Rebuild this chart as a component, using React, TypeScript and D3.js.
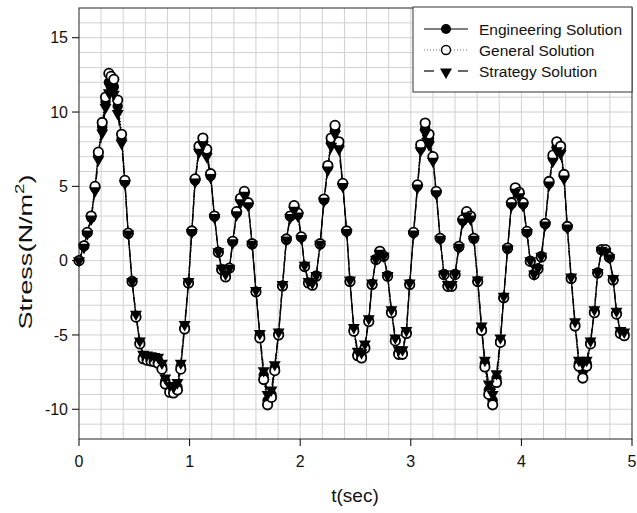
import React from 'react';
import * as d3 from 'd3';

// values
const time = [
  0, 0.045, 0.075, 0.11, 0.145, 0.175, 0.21, 0.24, 0.27, 0.29, 0.315, 0.35, 0.385, 0.415, 0.445, 0.48,
  0.515, 0.55, 0.58, 0.615, 0.65, 0.68, 0.715, 0.75, 0.78, 0.82, 0.855, 0.89, 0.92, 0.955, 0.99, 1.02,
  1.05, 1.085, 1.12, 1.155, 1.19, 1.225, 1.26, 1.29, 1.325, 1.36, 1.39, 1.425, 1.46, 1.495, 1.53, 1.565,
  1.6, 1.635, 1.67, 1.705, 1.74, 1.77, 1.805, 1.84, 1.875, 1.91, 1.945, 1.98, 2.01, 2.04, 2.075, 2.11,
  2.145, 2.18, 2.215, 2.25, 2.28, 2.315, 2.35, 2.385, 2.42, 2.45, 2.485, 2.52, 2.555, 2.585, 2.62, 2.65,
  2.685, 2.72, 2.755, 2.79, 2.825, 2.86, 2.89, 2.925, 2.96, 2.99, 3.025, 3.06, 3.09, 3.13, 3.165, 3.2,
  3.23, 3.265, 3.3, 3.335, 3.37, 3.4, 3.435, 3.47, 3.505, 3.54, 3.57, 3.605, 3.64, 3.67, 3.705, 3.74,
  3.775, 3.81, 3.84, 3.875, 3.91, 3.945, 3.98, 4.015, 4.05, 4.08, 4.115, 4.15, 4.18, 4.215, 4.25, 4.285,
  4.32, 4.355, 4.385, 4.415, 4.45, 4.485, 4.52, 4.555, 4.59, 4.625, 4.66, 4.69, 4.725, 4.76, 4.795, 4.83,
  4.86, 4.895, 4.93,
];

const general = [
  0, 1.0, 1.9, 3.0, 5.0, 7.3, 9.3, 11.0, 12.6, 12.4, 12.2, 10.8, 8.5, 5.4, 1.85, -1.4,
  -3.8, -5.6, -6.6, -6.7, -6.75, -6.8, -6.9, -7.3, -8.3, -8.85, -8.9, -8.7, -7.3, -4.6, -1.5, 2.0,
  5.5, 7.7, 8.25, 7.5, 5.85, 3.0, 0.56, -0.6, -1.1, -0.5, 1.3, 3.3, 4.2, 4.66, 3.9, 1.14,
  -2.1, -5.2, -8.0, -9.7, -9.2, -7.4, -5.0, -1.7, 1.46, 3.0, 3.7, 3.2, 1.6, -0.4, -1.5, -1.65,
  -1.05, 1.14, 4.15, 6.4, 8.25, 9.1, 8.0, 5.2, 2.0, -1.4, -4.75, -6.4, -6.55, -5.9, -4.1, -1.6,
  0.07, 0.63, 0.3, -1.05, -3.5, -5.4, -6.3, -6.3, -4.9, -1.6, 1.9, 5.1, 7.8, 9.26, 8.5, 7.0,
  4.66, 1.5, -0.94, -1.73, -1.73, -0.94, 0.96, 2.76, 3.3, 3.0, 1.5, -1.4, -4.7, -7.15, -9.0, -9.7,
  -8.2, -5.5, -2.5, 0.85, 3.9, 4.9, 4.6, 3.9, 1.97, -0.05, -0.94, -0.56, 0.25, 2.5, 5.33, 7.1,
  8.0, 7.7, 5.8, 2.3, -1.2, -4.4, -7.1, -7.9, -7.1, -5.6, -3.5, -0.83, 0.74, 0.74, 0.25, -1.3,
  -3.6, -4.9, -5.05,
];

const engineering = [
  0, 1.0, 1.9, 2.9, 4.9, 7.1, 9.0, 10.7, 12.0, 11.9, 11.7, 10.4, 8.2, 5.3, 1.8, -1.4,
  -3.7, -5.5, -6.5, -6.5, -6.6, -6.6, -6.7, -7.1, -8.1, -8.6, -8.7, -8.5, -7.1, -4.5, -1.5, 2.0,
  5.4, 7.5, 8.0, 7.3, 5.7, 3.0, 0.6, -0.6, -1.0, -0.5, 1.3, 3.2, 4.1, 4.5, 3.8, 1.1,
  -2.1, -5.0, -7.7, -9.4, -9.0, -7.2, -4.9, -1.7, 1.4, 3.0, 3.6, 3.1, 1.6, -0.4, -1.5, -1.6,
  -1.0, 1.1, 4.1, 6.3, 8.0, 8.8, 7.8, 5.1, 2.0, -1.4, -4.6, -6.3, -6.4, -5.8, -4.0, -1.6,
  0.1, 0.6, 0.3, -1.0, -3.4, -5.3, -6.2, -6.2, -4.8, -1.6, 1.9, 5.0, 7.6, 8.9, 8.2, 6.9,
  4.6, 1.5, -0.9, -1.7, -1.7, -0.9, 0.9, 2.7, 3.2, 2.9, 1.5, -1.4, -4.6, -6.9, -8.7, -9.4,
  -7.9, -5.4, -2.5, 0.8, 3.8, 4.8, 4.5, 3.8, 1.9, 0.0, -0.9, -0.5, 0.3, 2.5, 5.2, 6.9,
  7.7, 7.5, 5.7, 2.3, -1.2, -4.3, -6.9, -7.4, -6.9, -5.5, -3.4, -0.8, 0.7, 0.7, 0.2, -1.3,
  -3.5, -4.8, -4.9,
];

const strategy = [
  0, 0.9, 1.8, 2.8, 4.7, 6.8, 8.6, 10.3, 11.3, 11.5, 11.2, 9.9, 7.9, 5.2, 1.8, -1.4,
  -3.6, -5.4, -6.3, -6.35, -6.4, -6.45, -6.5, -6.9, -7.9, -8.4, -8.5, -8.2, -6.9, -4.3, -1.4, 1.9,
  5.3, 7.3, 7.8, 7.0, 5.6, 2.9, 0.6, -0.5, -0.9, -0.5, 1.2, 3.1, 3.9, 4.4, 3.7, 1.1,
  -2.0, -4.9, -7.4, -9.0, -8.7, -7.0, -4.8, -1.6, 1.4, 2.9, 3.4, 3.0, 1.5, -0.3, -1.4, -1.5,
  -1.0, 1.1, 4.0, 6.1, 7.7, 8.5, 7.5, 5.0, 1.9, -1.3, -4.5, -6.1, -6.2, -5.6, -3.9, -1.5,
  0.1, 0.5, 0.3, -1.0, -3.3, -5.2, -6.0, -6.0, -4.7, -1.5, 1.8, 4.9, 7.4, 8.6, 7.8, 6.7,
  4.5, 1.45, -0.9, -1.6, -1.6, -0.9, 0.9, 2.6, 3.0, 2.8, 1.45, -1.3, -4.4, -6.7, -8.3, -9.0,
  -7.6, -5.2, -2.4, 0.8, 3.7, 4.6, 4.3, 3.7, 1.9, 0.0, -0.9, -0.5, 0.3, 2.4, 5.1, 6.7,
  7.4, 7.2, 5.5, 2.2, -1.1, -4.1, -6.7, -6.9, -6.7, -5.4, -3.3, -0.8, 0.7, 0.6, 0.2, -1.2,
  -3.4, -4.7, -4.8,
];

const xTicks = [0, 1, 2, 3, 4, 5];
const yTicks = [-10, -5, 0, 5, 10, 15];
const legendLabels = ['Engineering Solution', 'General Solution', 'Strategy Solution'];

const font = "'Liberation Sans', Arial, sans-serif";

export default function App() {
  const width = 637;
  const height = 513;
  const left = 79, right = 632, top = 8, bottom = 439;

  const x = d3.scaleLinear().domain([0, 5]).range([left, right]);
  const y = d3.scaleLinear().domain([-12, 17]).range([bottom, top]);

  const xGrid = d3.range(1, 25).map(i => i * 0.2);
  const yGrid = d3.range(-11, 17);

  const line = (vals: number[]) =>
    d3.line<number>().x((_, i) => x(time[i])).y(d => y(d))(vals) || '';

  const tri = d3.symbol().type(d3.symbolTriangle).size(62)() || '';

  const legendY = [29, 50, 71];

  return (
    <svg width={width} height={height} style={{ position: 'absolute', left: 0, top: 0, background: '#fff' }}
      fontFamily={font}>
      {/* grid */}
      <g stroke="#d0d0d0" strokeWidth={1}>
        {xGrid.map(t => (
          <line key={'gx' + t} x1={x(t)} x2={x(t)} y1={top} y2={bottom} />
        ))}
        {yGrid.map(v => (
          <line key={'gy' + v} x1={left} x2={right} y1={y(v)} y2={y(v)} />
        ))}
      </g>

      {/* frame */}
      <rect x={left} y={top} width={right - left} height={bottom - top} fill="none" stroke="#222" strokeWidth={1} />

      {/* ticks */}
      <g stroke="#000" strokeWidth={1}>
        {xTicks.map(t => (
          <line key={'tx' + t} x1={x(t)} x2={x(t)} y1={bottom} y2={bottom + 7} />
        ))}
        {yTicks.map(v => (
          <line key={'ty' + v} x1={left - 7} x2={left} y1={y(v)} y2={y(v)} />
        ))}
      </g>
      <g fontSize={16} fill="#111">
        {xTicks.map(t => (
          <text key={'lx' + t} x={x(t)} y={467} textAnchor="middle">{t}</text>
        ))}
        {yTicks.map(v => (
          <text key={'ly' + v} x={68} y={y(v)} dy="0.36em" textAnchor="end">{v}</text>
        ))}
      </g>

      {/* axis titles */}
      <text x={355} y={502} fontSize={19} textAnchor="middle" fill="#111">t(sec)</text>
      <text transform="translate(32,252) rotate(-90)" fontSize={19} textAnchor="middle" fill="#111"
        textLength={155} lengthAdjust="spacingAndGlyphs">
        Stress(N/m<tspan fontSize={13} dy={-8}>2</tspan><tspan dy={8}>)</tspan>
      </text>

      {/* lines */}
      <path d={line(engineering)} fill="none" stroke="#000" strokeWidth={1.3} />
      <path d={line(general)} fill="none" stroke="#000" strokeWidth={1.3} strokeDasharray="1,2" />
      <path d={line(strategy)} fill="none" stroke="#000" strokeWidth={1.3} strokeDasharray="8,4" />

      {/* markers */}
      {engineering.map((v, i) => (
        <circle key={'e' + i} cx={x(time[i])} cy={y(v)} r={5.2} fill="#000" />
      ))}
      {general.map((v, i) => (
        <circle key={'g' + i} cx={x(time[i])} cy={y(v)} r={4.7} fill="#fff" stroke="#000" strokeWidth={1.8} />
      ))}
      {strategy.map((v, i) => (
        <path key={'s' + i} d={tri} transform={`translate(${x(time[i])},${y(v)}) rotate(180)`} fill="#000" />
      ))}

      {/* legend */}
      <rect x={413} y={7} width={219} height={85} fill="#fff" stroke="#333" strokeWidth={1} />
      {legendLabels.map((label, i) => (
        <g key={label}>
          {i === 0 && <line x1={424} x2={468} y1={legendY[i]} y2={legendY[i]} stroke="#000" strokeWidth={1.2} />}
          {i === 1 && <line x1={424} x2={468} y1={legendY[i]} y2={legendY[i]} stroke="#777" strokeWidth={1} strokeDasharray="1,2" />}
          {i === 2 && (
            <g stroke="#000" strokeWidth={1.2}>
              <line x1={424} x2={434} y1={legendY[i]} y2={legendY[i]} />
              <line x1={458} x2={468} y1={legendY[i]} y2={legendY[i]} />
            </g>
          )}
          {i === 0 && <circle cx={446} cy={legendY[i]} r={5} fill="#000" />}
          {i === 1 && <circle cx={446} cy={legendY[i]} r={4.5} fill="#fff" stroke="#000" strokeWidth={1.4} />}
          {i === 2 && <path d={tri} transform={`translate(446,${legendY[i] + 1}) rotate(180)`} fill="#000" />}
          <text x={479} y={legendY[i]} dy="0.36em" fontSize={15.5} fill="#111">{label}</text>
        </g>
      ))}
    </svg>
  );
}
